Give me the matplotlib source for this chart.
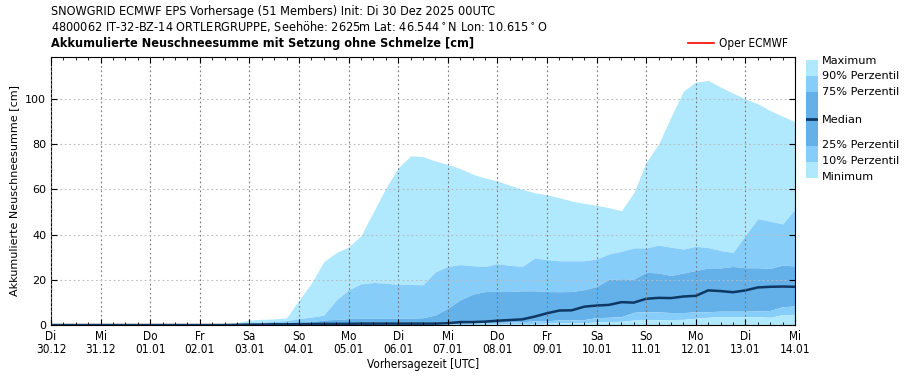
import numpy as np
import matplotlib.pyplot as plt
from matplotlib.lines import Line2D

# Neuschneesumme [cm], 6h-Schritte ab Di 30.12. 00UTC bis Mi 14.01. 00UTC
maximum = [0, 0, 0, 0, 0, 0, 0, 0, 0, 0, 0, 0, 0, 0, 0.3,
           1.0, 2.2, 2.5, 2.7, 3.2, 11.0, 18.5, 28.0, 32.0, 34.5,
           39.5, 50.0, 60.5, 69.5, 74.8, 74.4, 72.5, 71.0, 69.2, 66.7,
           65.0, 63.7, 61.8, 60.0, 58.5, 57.5, 56.3, 54.8, 53.8, 52.9,
           51.9, 50.5, 58.5, 71.9, 80.0, 92.0, 103.4, 107.4, 108.1, 105.2,
           102.5, 100.0, 97.8, 94.8, 92.3, 89.9]
p90 = [0, 0, 0, 0, 0, 0, 0, 0, 0, 0, 0, 0, 0, 0, 0.2,
       0.6, 1.0, 1.3, 1.6, 2.0, 2.8, 3.5, 4.4, 11.0, 15.5,
       18.2, 18.8, 18.5, 18.0, 17.9, 17.8, 23.5, 25.9, 26.7, 26.2,
       25.9, 27.1, 26.4, 25.9, 29.6, 28.9, 28.4, 28.4, 28.4, 29.2,
       31.4, 32.6, 34.1, 34.1, 35.3, 34.4, 33.6, 34.8, 34.2, 32.9,
       32.1, 39.6, 47.0, 45.9, 44.7, 51.1]
p75 = [0, 0, 0, 0, 0, 0, 0, 0, 0, 0, 0, 0, 0, 0, 0.1,
       0.3, 0.5, 0.7, 0.8, 1.0, 1.2, 1.5, 2.2, 2.5, 2.8,
       3.0, 3.0, 3.0, 3.0, 3.0, 3.2, 4.4, 7.4, 11.1, 13.6,
       14.8, 14.8, 14.8, 15.1, 15.1, 14.8, 14.7, 14.8, 15.6, 17.0,
       20.2, 20.4, 20.3, 23.3, 23.0, 21.9, 23.0, 24.1, 25.2, 25.2,
       25.9, 25.3, 25.3, 25.0, 26.5, 26.1]
median = [0, 0, 0, 0, 0, 0, 0, 0, 0, 0, 0, 0, 0, 0, 0,
          0.1, 0.2, 0.2, 0.3, 0.3, 0.4, 0.4, 0.5, 0.5, 0.5,
          0.6, 0.6, 0.6, 0.6, 0.6, 0.6, 0.6, 0.8, 1.3, 1.3,
          1.5, 1.9, 2.2, 2.5, 3.7, 5.2, 6.4, 6.5, 8.1, 8.6,
          8.9, 10.1, 9.9, 11.6, 12.0, 11.9, 12.6, 12.9, 15.3, 15.0,
          14.5, 15.3, 16.6, 16.9, 17.0, 16.9]
p25 = [0, 0, 0, 0, 0, 0, 0, 0, 0, 0, 0, 0, 0, 0, 0,
       0, 0.1, 0.1, 0.1, 0.1, 0.1, 0.2, 0.2, 0.2, 0.2,
       0.2, 0.2, 0.3, 0.3, 0.3, 0.3, 0.4, 0.5, 0.7, 0.8,
       1.0, 1.1, 1.3, 1.5, 1.8, 1.9, 2.2, 2.2, 2.4, 3.3,
       3.4, 3.7, 5.6, 5.9, 5.8, 5.5, 5.5, 5.8, 5.9, 6.1,
       6.1, 6.1, 6.2, 6.4, 8.1, 8.4]
p10 = [0, 0, 0, 0, 0, 0, 0, 0, 0, 0, 0, 0, 0, 0, 0,
       0, 0, 0, 0, 0, 0.1, 0.1, 0.1, 0.1, 0.1,
       0.1, 0.1, 0.1, 0.1, 0.2, 0.2, 0.2, 0.2, 0.2, 0.3,
       0.3, 0.4, 0.5, 0.6, 0.7, 0.8, 0.9, 1.0, 1.0, 1.3,
       1.5, 1.6, 2.2, 2.2, 2.3, 2.4, 2.5, 3.0, 3.4, 3.7,
       3.7, 3.7, 3.7, 3.4, 4.6, 4.7]
minimum = [0, 0, 0, 0, 0, 0, 0, 0, 0, 0, 0, 0, 0, 0, 0,
           0, 0, 0, 0, 0, 0, 0, 0, 0, 0,
           0, 0, 0, 0, 0, 0, 0, 0, 0, 0,
           0, 0, 0, 0, 0, 0, 0, 0, 0, 0,
           0, 0, 0, 0, 0, 0, 0, 0, 0, 0,
           0, 0, 0, 0, 0, 0]

tage = ["Di\n30.12", "Mi\n31.12", "Do\n01.01", "Fr\n02.01", "Sa\n03.01",
        "So\n04.01", "Mo\n05.01", "Di\n06.01", "Mi\n07.01", "Do\n08.01",
        "Fr\n09.01", "Sa\n10.01", "So\n11.01", "Mo\n12.01", "Di\n13.01",
        "Mi\n14.01"]

hell = '#b0e8fe'
mittel = '#87cdfa'
dunkel = '#64b0e8'
dunkelblau = '#0e3864'

t = np.arange(len(maximum)) * 0.25  # Tage seit Init

fig = plt.figure(figsize=(9.09, 3.8), dpi=100)
ax = fig.add_axes([51/909, 1-325/380, 744/909, 268/380])

ax.fill_between(t, p90, maximum, color=hell, lw=0)
ax.fill_between(t, p75, p90, color=mittel, lw=0)
ax.fill_between(t, p25, p75, color=dunkel, lw=0)
ax.fill_between(t, p10, p25, color=mittel, lw=0)
ax.fill_between(t, minimum, p10, color=hell, lw=0)
ax.plot(t, median, color=dunkelblau, lw=1.8)

ax.set_xlim(0, 15)
ax.set_ylim(0, 118.5)
ax.set_xticks(np.arange(16))
ax.set_xticks(np.arange(0, 15.01, 0.25), minor=True)
ax.set_xticklabels(tage, fontsize=8.5, fontstretch='condensed', linespacing=1.05)
ax.set_yticks(np.arange(0, 101, 20))
ax.tick_params(axis='y', labelsize=8)
ax.tick_params(which='both', direction='in', top=True, right=True)
ax.tick_params(which='major', length=4)
ax.tick_params(which='minor', length=2.5)
ax.grid(axis='x', which='major', ls=(0, (1.5, 2.5)), color='#777777', lw=0.8)
ax.grid(axis='y', which='major', ls=(0, (1.5, 2.5)), color='#bbbbbb', lw=0.8)
ax.set_axisbelow(False)
for s in ax.spines.values():
    s.set_linewidth(0.8)

ax.set_xlabel('Vorhersagezeit [UTC]', fontsize=8.5, fontstretch='condensed', labelpad=1)
ax.set_ylabel('Akkumulierte Neuschneesumme [cm]', fontsize=8)

fig.text(51/909, 1-12/380, 'SNOWGRID ECMWF EPS Vorhersage (51 Members) Init: Di 30 Dez 2025 00UTC',
         fontsize=9.1, fontstretch='condensed', va='center')
fig.text(51/909, 1-26/380, '4800062 IT-32-BZ-14 ORTLERGRUPPE, Seehöhe: 2625m Lat: 46.544$^\\circ$N Lon: 10.615$^\\circ$O',
         fontsize=9.1, fontstretch='condensed', va='center')
fig.text(51/909, 1-43/380, 'Akkumulierte Neuschneesumme mit Setzung ohne Schmelze [cm]',
         fontsize=9.1, fontweight='bold', fontstretch='condensed', va='center')
oper = Line2D([], [], color='red', lw=1.2)
ax.legend([oper], ['Oper ECMWF'], loc='lower right', bbox_to_anchor=(1.0, 1.0), frameon=False,
          prop={'stretch': 'condensed', 'size': 8.5},
          handlelength=2.2, handletextpad=0.4, borderaxespad=0.2)

# Legende der Perzentile rechts
leg = fig.add_axes([806/909, 1-178/380, 12/909, 118/380])
stufen = [(0, 16, hell), (16, 32, mittel), (32, 59, dunkel), (59, 86, dunkel),
          (86, 102, mittel), (102, 118, hell)]
for a, b, c in stufen:
    leg.axhspan(a, b, color=c, lw=0)
leg.axhline(59, color=dunkelblau, lw=2)
leg.set_ylim(118, 0)
leg.set_xlim(0, 1)
leg.axis('off')
namen = ['Maximum', '90% Perzentil', '75% Perzentil', 'Median',
         '25% Perzentil', '10% Perzentil', 'Minimum']
ypos = [61, 76, 92, 120, 145, 161, 177]
for n, y in zip(namen, ypos):
    fig.text(822/909, 1-y/380, n, fontsize=8.1, va='center')

fig.savefig('out.png', dpi=100)
